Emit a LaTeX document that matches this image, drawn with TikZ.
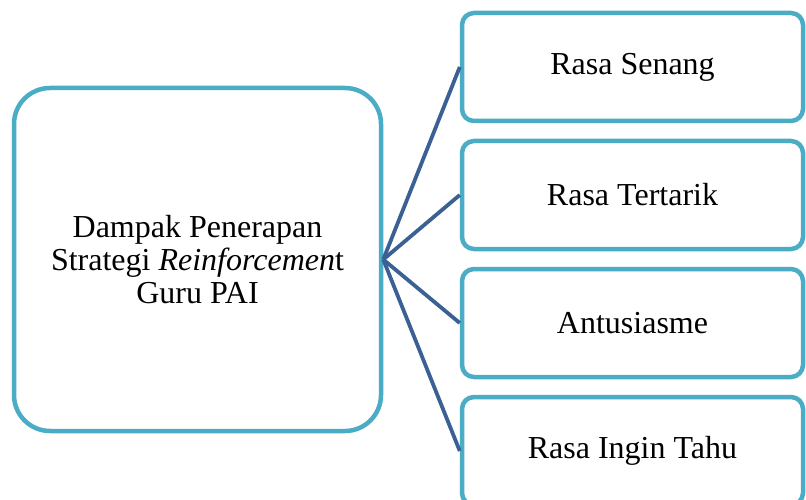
\documentclass[tikz,border=0pt]{standalone}
\usepackage{fontspec}
\setmainfont{Liberation Serif}
\usepackage{tikz}
\usetikzlibrary{positioning}

\definecolor{boxaqua}{RGB}{75,172,198}
\definecolor{linkblue}{RGB}{58,96,148}

\begin{document}
\begin{tikzpicture}[x=1pt,y=-1pt,every node/.style={font=\fontsize{32}{33}\selectfont}]
		\tikzstyle{mainbox}=[draw=boxaqua, line width=4.5pt, fill=white, rounded corners=36pt, minimum width=367pt, minimum height=343pt, align=center, inner sep=0pt]
		\tikzstyle{effect}=[draw=boxaqua, line width=4.5pt, fill=white, rounded corners=12pt, minimum width=341pt, minimum height=108pt, inner sep=0pt]
		\tikzstyle{link}=[draw=linkblue, line width=3.8pt]
		
		\useasboundingbox (0,0) rectangle (806,500);
		\clip (0,0) rectangle (806,500);
		
		\node[mainbox] (impact) at (197.5,259.5) {Dampak Penerapan\\Strategi \textit{Reinforcemen}t\\Guru PAI};
		\node[effect]  (senang)   at (632.5, 67) {Rasa Senang};
		\node[effect]  (tertarik) at (632.5,195) {Rasa Tertarik};
		\node[effect]  (antusias) at (632.5,323) {Antusiasme};
		\node[effect]  (tahu)     at (632.5,451) {Rasa Ingin Tahu};
		
		\path[link]
		(impact.east) edge (senang.west)
		(impact.east) edge (tertarik.west)
		(impact.east) edge (antusias.west)
		(impact.east) edge (tahu.west)
		;
\end{tikzpicture}
\end{document}
